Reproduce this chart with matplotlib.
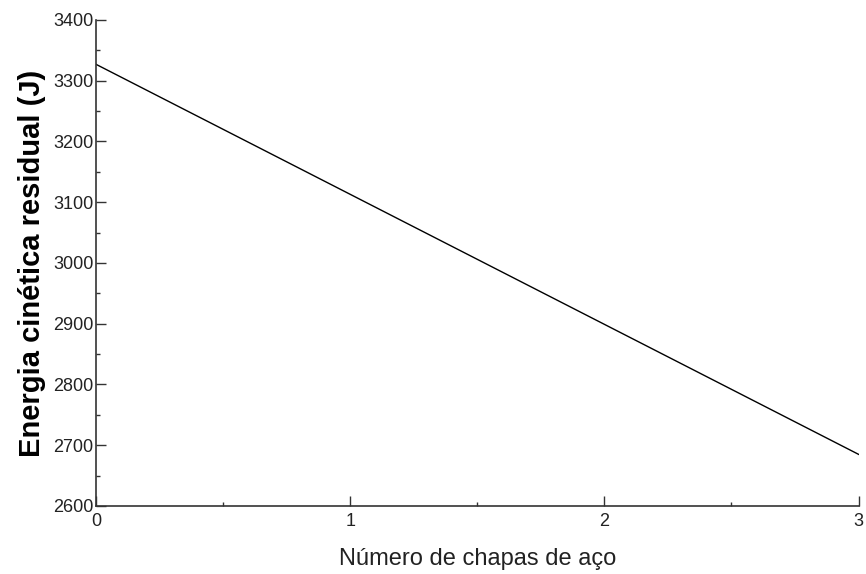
import matplotlib
matplotlib.use("Agg")
from matplotlib import pyplot as plt
from matplotlib.ticker import MultipleLocator

chapas = [0, 1, 2, 3]
energia = [3327, 3113, 2899, 2685]

plt.rcParams['font.family'] = ['Liberation Sans', 'DejaVu Sans']

fig = plt.figure(figsize=(8.66, 5.74), dpi=100)
ax = fig.add_axes([0.1109, 0.1185, 0.8805, 0.8467])

ax.plot(chapas, energia, color="black", linewidth=1.0)

ax.set_xlim(0, 3)
ax.set_ylim(2600, 3400)
ax.xaxis.set_major_locator(MultipleLocator(1))
ax.xaxis.set_minor_locator(MultipleLocator(0.5))
ax.yaxis.set_major_locator(MultipleLocator(100))
ax.yaxis.set_minor_locator(MultipleLocator(50))

ax.spines['top'].set_visible(False)
ax.spines['right'].set_visible(False)
for s in ['left', 'bottom']:
    ax.spines[s].set_color("#333333")
    ax.spines[s].set_linewidth(1.2)

ax.tick_params(which='major', direction='in', length=7, width=1, colors="#333333", labelsize=13, pad=2)
ax.tick_params(which='minor', direction='in', length=3, width=1, colors="#333333")
ax.tick_params(axis='x', labelcolor="#222222", pad=5)
ax.tick_params(axis='y', labelcolor="#222222")

ax.set_xlabel("Número de chapas de aço", fontsize=17, labelpad=13, color="#222222")
ax.set_ylabel("Energia cinética residual (J)", fontsize=21, fontweight='bold', labelpad=5)

fig.savefig("out.png", dpi=100)
